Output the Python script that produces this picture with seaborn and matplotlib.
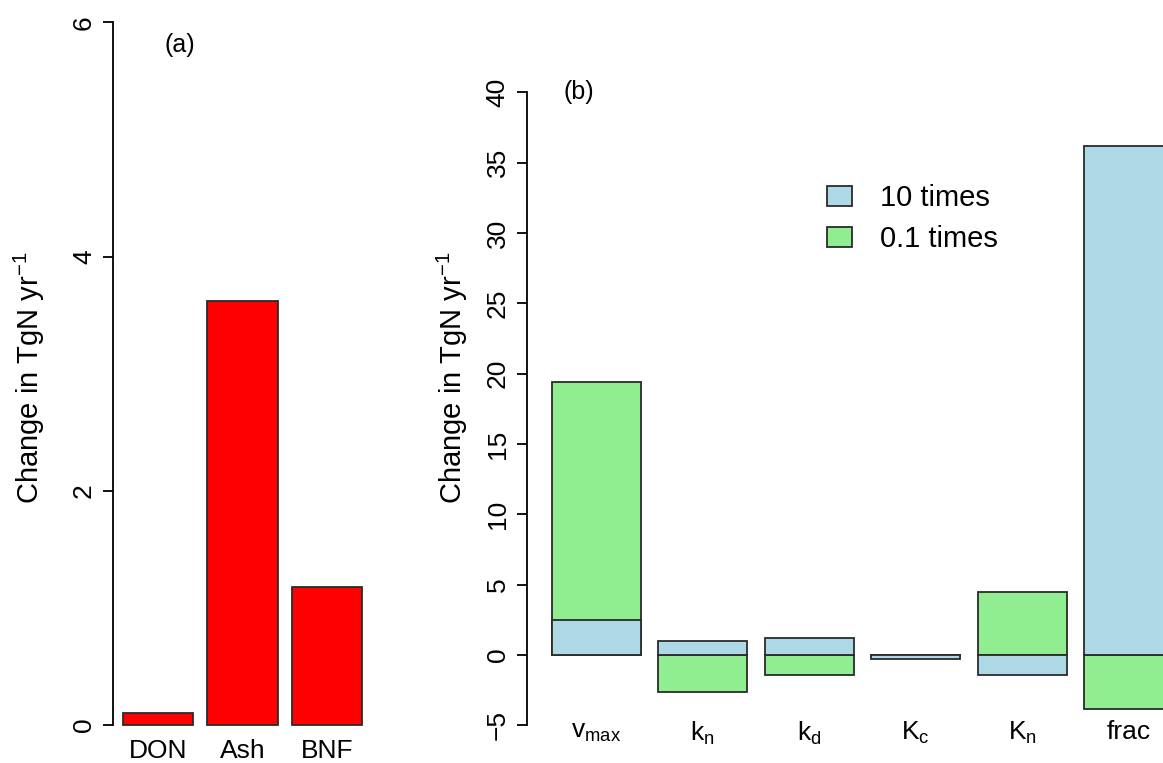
import matplotlib
matplotlib.use('Agg')
from matplotlib import pyplot as plt
from matplotlib.patches import Patch
import seaborn as sns

sns.set_style('white')
plt.rcParams['font.family'] = ['Liberation Sans', 'DejaVu Sans']
for k in ['text.color', 'axes.labelcolor', 'xtick.color', 'ytick.color']:
    plt.rcParams[k] = 'black'

# panel (a): extra N supply
sources = ['DON', 'Ash', 'BNF']
source_change = [0.10, 3.62, 1.18]

# panel (b): parameter sensitivity
params = [r'$\mathregular{v_{max}}$', r'$\mathregular{k_n}$', r'$\mathregular{k_d}$',
          r'$\mathregular{K_c}$', r'$\mathregular{K_n}$', 'frac']
ten_times = [2.51, 1.02, 1.21, -0.26, -1.44, 36.2]
tenth_times = [19.38, -2.63, -1.42, -0.15, 4.50, -3.82]

_blue = '#ADD8E6'
_green = '#90EE90'
_edge = '#2b2b2b'
_lw = 1.3
_bw = 1 / 1.2  # R barplot space=0.2

W, H = 1163, 763
f = plt.figure(figsize=(W / 100, H / 100), dpi=100)

ylab = r'Change in TgN yr$^{\mathregular{-1}}$'

# ---- (a)
ax1 = f.add_axes([113.3 / W, 1 - 736.7 / H, 258.5 / W, 742.5 / H])
sns.barplot(x=sources, y=source_change, ax=ax1, color='red', saturation=1,
            width=_bw, edgecolor=_edge, linewidth=_lw)
ax1.set_xlim(-0.53, 2.53)
ax1.set_ylim(-0.1, 6.24)
ax1.set_yticks([0, 2, 4, 6])
ax1.spines['left'].set_bounds(0, 6)
ax1.text(0.258, 0.9316, '(a)', transform=ax1.transAxes, ha='center', va='center', fontsize=18)
ax1.set_ylabel(ylab, fontsize=21)
ax1.yaxis.set_label_coords(-0.255, 0.483)

# ---- (b)
ax2 = f.add_axes([527 / W, 1 - 729.6 / H, 671 / W, 662.7 / H])
sns.barplot(x=params, y=tenth_times, ax=ax2, color=_green, saturation=1,
            width=_bw, edgecolor=_edge, linewidth=_lw)
sns.barplot(x=params, y=ten_times, ax=ax2, color=_blue, saturation=1,
            width=_bw, edgecolor=_edge, linewidth=_lw)
ax2.set_xlim(-0.65, 5.65)
ax2.set_ylim(-5.3, 41.8)
ax2.set_yticks(range(-5, 41, 5))
ax2.spines['left'].set_bounds(-5, 40)
ax2.text(0.0765, 0.962, '(b)', transform=ax2.transAxes, ha='center', va='center', fontsize=18)
ax2.set_ylabel(ylab, fontsize=21)
ax2.yaxis.set_label_coords(-0.085, 0.5306)

hands = [Patch(facecolor=_blue, edgecolor=_edge, linewidth=_lw, label='10 times'),
         Patch(facecolor=_green, edgecolor=_edge, linewidth=_lw, label='0.1 times')]
ax2.legend(handles=hands, loc='upper left', bbox_to_anchor=(827 / W, 1 - 184 / H),
           bbox_transform=f.transFigure, frameon=False, fontsize=21, borderpad=0,
           borderaxespad=0, handlelength=0.85, handleheight=0.7, handletextpad=0.95,
           labelspacing=0.45)

for ax in ax1, ax2:
    for s in ['top', 'right', 'bottom']:
        ax.spines[s].set_visible(False)
    ax.spines['left'].set_color('black')
    ax.spines['left'].set_linewidth(_lw)
    ax.set_xlabel('')
    ax.tick_params(axis='y', length=7.5, width=_lw, color='black', labelsize=19,
                   labelrotation=90, direction='out', left=True, pad=5)
    for t in ax.get_yticklabels():
        t.set_va('center')
    ax.tick_params(axis='x', length=0, labelsize=19)
ax1.tick_params(axis='x', pad=1.5)
ax2.tick_params(axis='x', pad=-7)

plt.savefig('out.png', dpi=100)
